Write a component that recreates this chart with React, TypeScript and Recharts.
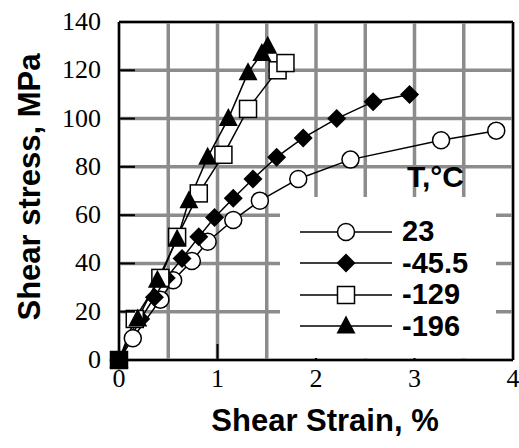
import React from 'react';
import { LineChart, Line, XAxis, YAxis, CartesianGrid, Legend, Label } from 'recharts';

// ---- data ----
const strain23 = [0, 0.14, 0.42, 0.55, 0.74, 0.9, 1.16, 1.43, 1.82, 2.35, 3.27, 3.83];
const stress23 = [0, 9, 25, 33, 41, 49, 58, 66, 75, 83, 91, 95];

const strainM45 = [0, 0.22, 0.36, 0.48, 0.64, 0.81, 0.97, 1.16, 1.36, 1.6, 1.87, 2.21, 2.58, 2.95];
const stressM45 = [0, 17, 26, 34, 42, 51, 59, 67, 75, 84, 92, 100, 107, 110];

const strainM129 = [0, 0.16, 0.42, 0.59, 0.81, 1.06, 1.31, 1.61, 1.69];
const stressM129 = [0, 17, 34, 51, 69, 85, 104, 120, 123];

const strainM196 = [0, 0.19, 0.39, 0.59, 0.71, 0.9, 1.11, 1.31, 1.45, 1.51];
const stressM196 = [0, 17, 33, 50, 66, 84, 100, 119, 127, 130];

const seriesLabels = ['23', '-45.5', '-129', '-196'];
const markerKinds = ['circle', 'diamond', 'square', 'triangle'];

const xGridTicks = [0, 0.5, 1, 1.5, 2, 2.5, 3, 3.5, 4];
const xTopTicks = [1, 2, 3];
const yTicks = [0, 20, 40, 60, 80, 100, 120, 140];

const legendTitle = 'T,°C';
const xTitle = 'Shear Strain, %';
const yTitle = 'Shear stress, MPa';

const toPoints = (xs: number[], ys: number[]) => xs.map((x, i) => ({ x, y: ys[i] }));
const series = [
  toPoints(strain23, stress23),
  toPoints(strainM45, stressM45),
  toPoints(strainM129, stressM129),
  toPoints(strainM196, stressM196),
];

const SERIF = '"Liberation Serif", "Times New Roman", serif';
const SANS = '"Liberation Sans", Arial, sans-serif';

function marker(kind: string, cx: number, cy: number, key?: any, atOrigin?: boolean) {
  if (cx == null || cy == null || isNaN(cx) || isNaN(cy)) return <g key={key} />;
  switch (kind) {
    case 'circle':
      return <circle key={key} cx={cx} cy={cy} r={8.5} fill="#fff" stroke="#000" strokeWidth={1.5} />;
    case 'diamond':
      return (
        <polygon
          key={key}
          points={`${cx},${cy - 9.5} ${cx + 9.5},${cy} ${cx},${cy + 9.5} ${cx - 9.5},${cy}`}
          fill="#000"
        />
      );
    case 'square':
      return (
        <rect
          key={key}
          x={cx - 8.5}
          y={cy - 8.5}
          width={17}
          height={17}
          fill={atOrigin ? '#000' : '#fff'}
          stroke="#000"
          strokeWidth={1.5}
        />
      );
    default:
      return (
        <polygon
          key={key}
          points={`${cx},${cy - 10.5} ${cx + 9.5},${cy + 7.5} ${cx - 9.5},${cy + 7.5}`}
          fill="#000"
        />
      );
  }
}

const makeDot = (kind: string) => (props: any) =>
  marker(kind, props.cx, props.cy, `${kind}-${props.index}`, props.payload && props.payload.x === 0 && props.payload.y === 0);

const XTick = (props: any) => {
  const { x, y, payload } = props;
  const v = payload.value;
  const axisY = y - 10;
  const isInt = Number.isInteger(v);
  return (
    <g>
      {isInt && v > 0 && v < 4 ? (
        <line x1={x} x2={x} y1={axisY} y2={axisY - 16} stroke="#000" strokeWidth={2} />
      ) : null}
      {isInt ? (
        <text x={x} y={axisY + 27} textAnchor="middle" fontFamily={SERIF} fontSize={26} fill="#000">
          {v}
        </text>
      ) : null}
    </g>
  );
};

const YTick = (props: any) => {
  const { x, y, payload } = props;
  const v = payload.value;
  const axisX = x + 18;
  return (
    <g>
      {v > 0 && v < 140 ? (
        <line x1={axisX} x2={axisX + 16} y1={y} y2={y} stroke="#000" strokeWidth={2} />
      ) : null}
      <text x={x} y={y + 8} textAnchor="end" fontFamily={SERIF} fontSize={26} fill="#000">
        {v}
      </text>
    </g>
  );
};

const XTitle = (props: any) => {
  const vb = props.viewBox || { x: 119, y: 360, width: 394, height: 88 };
  return (
    <text
      x={vb.x + vb.width / 2 + 9}
      y={vb.y + 71}
      textAnchor="middle"
      fontFamily={SANS}
      fontWeight="bold"
      fontSize={31}
      fill="#000"
    >
      {xTitle}
    </text>
  );
};

const YTitle = (props: any) => {
  const vb = props.viewBox || { x: 0, y: 22, width: 119, height: 338 };
  const cx = vb.x + 40;
  const cy = vb.y + vb.height / 2 - 4;
  return (
    <text
      x={cx}
      y={cy}
      transform={`rotate(-90 ${cx} ${cy})`}
      textAnchor="middle"
      fontFamily={SANS}
      fontWeight="bold"
      fontSize={31}
      fill="#000"
    >
      {yTitle}
    </text>
  );
};

const LegendBox = () => (
  <div style={{ position: 'relative', width: 216, height: 198 }}>
    <div
      style={{
        position: 'absolute',
        left: 127,
        top: 2,
        fontFamily: SANS,
        fontWeight: 'bold',
        fontSize: 30,
        lineHeight: '30px',
        whiteSpace: 'nowrap',
        color: '#000',
      }}
    >
      {legendTitle}
    </div>
    <div
      style={{
        position: 'absolute',
        left: 0,
        top: 37,
        width: 216,
        height: 161,
        background: '#fff',
        paddingTop: 19,
        boxSizing: 'border-box',
      }}
    >
      {seriesLabels.map((label, i) => (
        <div key={label} style={{ display: 'flex', alignItems: 'center', height: 31.5 }}>
          <svg width={92} height={32} style={{ marginLeft: 20, display: 'block' }}>
            <line x1={0} x2={92} y1={16} y2={16} stroke="#000" strokeWidth={1.5} />
            {marker(markerKinds[i], 46, 16)}
          </svg>
          <span
            style={{
              marginLeft: 10,
              fontFamily: SANS,
              fontWeight: 'bold',
              fontSize: 29,
              lineHeight: '31.5px',
              color: '#000',
              whiteSpace: 'nowrap',
            }}
          >
            {label}
          </span>
        </div>
      ))}
    </div>
  </div>
);

export default function App() {
  return (
    <div style={{ position: 'absolute', left: 0, top: 0, width: 519, height: 448, background: '#fff' }}>
      <LineChart width={519} height={448} margin={{ top: 21, right: 5, left: 0, bottom: 0 }}>
        <CartesianGrid stroke="#8c8c8c" strokeWidth={3.5} />
        <XAxis
          dataKey="x"
          type="number"
          domain={[0, 4]}
          ticks={xGridTicks}
          interval={0}
          height={88}
          tickLine={false}
          tickSize={0}
          tickMargin={10}
          tick={<XTick />}
          axisLine={{ stroke: '#000', strokeWidth: 2 }}
          allowDecimals
        >
          <Label content={<XTitle />} />
        </XAxis>
        <XAxis
          xAxisId="top"
          orientation="top"
          type="number"
          domain={[0, 4]}
          ticks={xTopTicks}
          interval={0}
          height={1}
          tick={false}
          tickSize={-16}
          tickLine={{ stroke: '#000', strokeWidth: 2 }}
          axisLine={{ stroke: '#000', strokeWidth: 2 }}
        />
        <YAxis
          type="number"
          domain={[0, 140]}
          ticks={yTicks}
          interval={0}
          width={119}
          tickLine={false}
          tickSize={0}
          tickMargin={18}
          tick={<YTick />}
          axisLine={{ stroke: '#000', strokeWidth: 2 }}
        >
          <Label content={<YTitle />} />
        </YAxis>
        <YAxis
          yAxisId="right"
          orientation="right"
          type="number"
          domain={[0, 140]}
          ticks={yTicks.slice(1, -1)}
          interval={0}
          width={1}
          tick={false}
          tickSize={-16}
          tickLine={{ stroke: '#000', strokeWidth: 2 }}
          axisLine={{ stroke: '#000', strokeWidth: 2 }}
        />
        {series.map((pts, i) => (
          <Line
            key={seriesLabels[i]}
            data={pts}
            dataKey="y"
            type="linear"
            stroke="#000"
            strokeWidth={1.5}
            dot={makeDot(markerKinds[i])}
            activeDot={false}
            isAnimationActive={false}
            legendType="none"
          />
        ))}
        <Legend
          content={<LegendBox />}
          layout="vertical"
          align="center"
          verticalAlign="middle"
          wrapperStyle={{ left: 280, top: 160, width: 216, height: 198 }}
        />
      </LineChart>
    </div>
  );
}
